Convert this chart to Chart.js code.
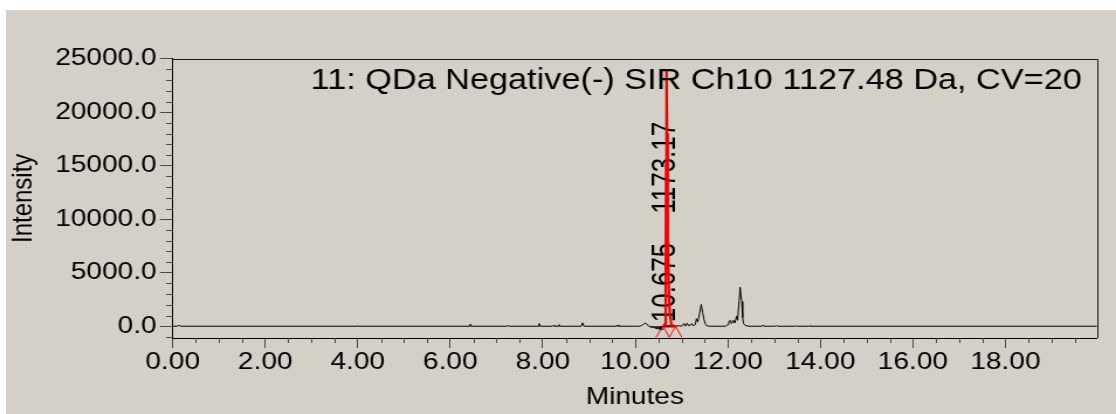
<!DOCTYPE html>
<html>
<head>
<meta charset="utf-8">
<script src="https://cdn.jsdelivr.net/npm/chart.js@4.4.1/dist/chart.umd.min.js"></script>
<style>
  html, body { margin: 0; padding: 0; background: #fff; width: 1116px; height: 414px; overflow: hidden; }
  #bg { position: absolute; left: 6px; top: 10px; width: 1110px; height: 404px; background: #d4d0c8; }
  /* the original picture is stretched sideways, so draw narrow and scale */
  #wrap { position: absolute; left: 0; top: 0; width: 954px; height: 414px; transform: scaleX(1.16981); transform-origin: 0 0; }
</style>
</head>
<body>
<div id="bg"></div>
<div id="wrap"><canvas id="chrom"></canvas></div>
<script>
// chromatogram trace (minutes, intensity); null = gap where the integrated peak is drawn in red
const TRACE_TIME = [0.00, 0.10, 0.13, 0.16, 3.98, 4.00, 4.02, 6.41, 6.43, 6.45, 7.23, 7.25, 7.27, 7.90, 7.92, 7.94,
  8.21, 8.23, 8.25, 8.33, 8.35, 8.37, 8.83, 8.86, 8.89, 9.60, 9.62, 9.64, 10.08, 10.14, 10.18, 10.22, 10.25,
  10.29, 10.31, 10.33, 10.35, 10.37, 10.39, 10.41, 10.43, 10.45, 10.47, 10.49, 10.51, 10.53, 10.55, 10.57, 10.59, 10.60,
  10.87, 10.95, 11.00, 11.05, 11.08, 11.12, 11.15, 11.19, 11.22, 11.25, 11.28, 11.30, 11.32, 11.35, 11.39, 11.425,
  11.455, 11.48, 11.51, 11.54, 11.60, 11.95, 12.00, 12.02, 12.05, 12.08, 12.12, 12.15, 12.19, 12.21, 12.245, 12.265,
  12.28, 12.30, 12.32, 12.34, 12.37, 12.40, 12.45, 12.74, 12.76, 12.78, 13.03, 13.05, 13.07, 13.45, 13.47, 13.49,
  13.75, 13.77, 13.79, 19.98];
const TRACE_INT = [0, 0, 120, 0, 0, 40, 0, 0, 200, 0, 0, 100, 0, 0, 250, 0,
  0, 80, 0, 0, 150, 0, 0, 320, 0, 0, 120, 0, 0, 80, 200, 300, 200,
  0, -60, 0, -110, 0, -160, 0, -210, 0, -260, 0, -300, 0, -340, 0, -360, null,
  0, 50, 0, 250, 0, 300, 50, 100, 250, 50, 100, 200, 700, 400, 1200, 2030,
  1300, 700, 250, 50, 0, 0, 150, 400, 550, 250, 550, 300, 940, 550, 2430, 3650,
  3000, 2300, 800, 250, 100, 50, 0, 0, 120, 0, 0, 80, 0, 0, 50, 0,
  0, 40, 0, 0];

// integrated peak (red)
const PEAK_TIME = [10.60, 10.64, 10.655, 10.665, 10.672, 10.678, 10.685, 10.695, 10.705, 10.72, 10.745, 10.78, 10.87];
const PEAK_INT = [0, 200, 2000, 15000, 23850, 23500, 18000, 12000, 8000, 4000, 1200, 100, 0];

// integration baseline and start / end markers
const BASE_TIME = [10.60, 10.87];
const BASE_INT = [0, 0];
const MARK_TIME = [10.445, 10.60, 10.735, 10.87, 11.005];
const MARK_INT = [-1040, 0, -1040, 0, -1040];

const PEAK_RT = 10.675;
const PEAK_LABEL = '10.675    1173.17';
const CHANNEL_TITLE = '11: QDa Negative(-) SIR Ch10 1127.48 Da, CV=20';

const X_TICKS = [0, 2, 4, 6, 8, 10, 12, 14, 16, 18];
const Y_TICKS = [0, 5000, 10000, 15000, 20000, 25000];
const X_MINOR = 0.5;
const Y_MINOR = 1000;

const FONT = "'Liberation Sans', Arial, sans-serif";
Chart.defaults.font.family = FONT;
Chart.defaults.color = '#000';

const pts = (xs, ys) => xs.map((x, i) => ({ x: x, y: ys[i] }));

const chromPlugin = {
  id: 'chrom',
  beforeDatasetsDraw(chart) {
    const { ctx, scales: { x, y } } = chart;
    ctx.save();
    ctx.translate(x.getPixelForValue(PEAK_RT) - 1, y.getPixelForValue(0) - 4);
    ctx.rotate(-Math.PI / 2);
    ctx.scale(1, 1.15);
    ctx.font = '26px ' + FONT;
    ctx.fillStyle = '#000';
    ctx.textAlign = 'left';
    ctx.textBaseline = 'middle';
    ctx.fillText(PEAK_LABEL, 0, 0);
    ctx.restore();
  },
  afterDraw(chart) {
    const { ctx, chartArea: a, scales: { x, y } } = chart;
    ctx.save();
    // minor ticks
    ctx.strokeStyle = '#4a4a4a';
    ctx.lineWidth = 1;
    ctx.beginPath();
    for (let v = 0; v < x.max; v += X_MINOR) {
      if (X_TICKS.includes(v)) continue;
      const px = Math.round(x.getPixelForValue(v)) + 0.5;
      ctx.moveTo(px, a.bottom); ctx.lineTo(px, a.bottom + 5);
    }
    for (let v = -1000; v <= y.max; v += Y_MINOR) {
      if (Y_TICKS.includes(v)) continue;
      const py = Math.round(y.getPixelForValue(v)) + 0.5;
      ctx.moveTo(a.left - 5.7, py); ctx.lineTo(a.left, py);
    }
    ctx.stroke();
    // frame top and right
    ctx.strokeStyle = '#1a1a1a';
    ctx.beginPath();
    ctx.moveTo(a.left, Math.round(a.top) + 0.5);
    ctx.lineTo(Math.round(a.right) + 0.5, Math.round(a.top) + 0.5);
    ctx.lineTo(Math.round(a.right) + 0.5, a.bottom);
    ctx.stroke();
    // channel title
    ctx.font = '29.3px ' + FONT;
    ctx.fillStyle = '#000';
    ctx.textAlign = 'right';
    ctx.textBaseline = 'alphabetic';
    ctx.fillText(CHANNEL_TITLE, a.right - 13, 89);
    ctx.restore();
  }
};

new Chart(document.getElementById('chrom'), {
  type: 'line',
  data: {
    datasets: [
      { label: 'trace', data: pts(TRACE_TIME, TRACE_INT), borderColor: '#000', borderWidth: 1, spanGaps: false, order: 4 },
      { label: 'markers', data: pts(MARK_TIME, MARK_INT), borderColor: '#ff1010', borderWidth: 1, order: 3 },
      { label: 'baseline', data: pts(BASE_TIME, BASE_INT), borderColor: '#a00000', borderWidth: 2.5, order: 2 },
      { label: 'peak', data: pts(PEAK_TIME, PEAK_INT), borderColor: '#f00000', borderWidth: 2.2, order: 1 }
    ]
  },
  options: {
    responsive: true,
    maintainAspectRatio: false,
    animation: false,
    layout: { padding: { left: 0, top: 58.7, right: 16.24, bottom: 0 } },
    elements: { point: { radius: 0 }, line: { tension: 0 } },
    plugins: { legend: { display: false }, tooltip: { enabled: false } },
    scales: {
      x: {
        type: 'linear', min: 0, max: 19.98,
        afterBuildTicks: s => { s.ticks = X_TICKS.map(v => ({ value: v })); },
        afterFit: s => { s.height = 76; },
        grid: { drawOnChartArea: false, tickLength: 10, color: '#4a4a4a' },
        border: { color: '#000' },
        ticks: { font: { size: 24 }, color: '#000', padding: 0, maxRotation: 0, autoSkip: false, callback: v => v.toFixed(2) },
        title: { display: true, text: 'Minutes', font: { size: 24 }, color: '#000', padding: { top: 2, bottom: 2 } }
      },
      y: {
        type: 'linear', min: -1100, max: 25000,
        afterBuildTicks: s => { s.ticks = Y_TICKS.map(v => ({ value: v })); },
        afterFit: s => { s.width = 147.63; },
        grid: { drawOnChartArea: false, tickLength: 10.85, color: '#4a4a4a' },
        border: { color: '#000' },
        ticks: { font: { size: 24 }, color: '#000', padding: 2.85, autoSkip: false, callback: v => v.toFixed(1) },
        title: { display: true, text: 'Intensity', font: { size: 24 }, color: '#000', padding: { top: 6, bottom: 6 } }
      }
    }
  },
  plugins: [chromPlugin]
});
</script>
</body>
</html>
